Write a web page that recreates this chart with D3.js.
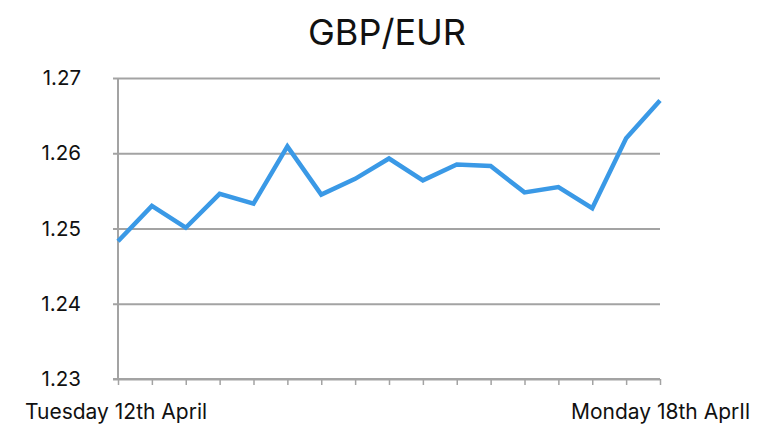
<!DOCTYPE html>
<html lang="en">
<head>
<meta charset="UTF-8">
<title>GBP/EUR</title>
<script src="https://d3js.org/d3.v7.min.js"></script>
<style>
  body { margin: 0; background: #fff; }
  text { font-family: Inter, Roboto, "Noto Sans", sans-serif; fill: #111; }
</style>
</head>
<body>
<svg width="770" height="446"></svg>
<script>
    const title = "GBP/EUR";
    const rates = [1.2483, 1.2530, 1.2501, 1.2546, 1.2533, 1.2609, 1.2545, 1.2566, 1.2593,
                   1.2564, 1.2585, 1.2583, 1.2548, 1.2555, 1.2527, 1.2620, 1.2670];
    const yTicks = [1.23, 1.24, 1.25, 1.26, 1.27];
    const startLabel = "Tuesday 12th April";
    const endLabel = "Monday 18th AprIl";

    const margin = {top: 78, right: 110, bottom: 67, left: 118},
        width = 770 - margin.left - margin.right,
        height = 446 - margin.top - margin.bottom;

    const svg = d3.select("svg")
        .append("g")
        .attr("transform", `translate(${margin.left},${margin.top})`);

    const x = d3.scaleLinear()
        .domain([0, rates.length - 1])
        .range([0, width]);

    const y = d3.scaleLinear()
        .domain([1.23, 1.27])
        .range([height, 0]);

    // grid + y labels
    const yAxis = svg.append("g")
        .call(d3.axisLeft(y).tickValues(yTicks).tickSize(-width - 5).tickFormat(d3.format(".2f")));
    yAxis.select(".domain").remove();
    yAxis.selectAll(".tick line")
        .attr("x1", -5)
        .attr("x2", width)
        .attr("stroke", "#a3a3a3")
        .attr("stroke-width", 2);
    yAxis.selectAll(".tick text")
        .attr("x", -37)
        .style("font-size", "20.5px");

    // left axis line
    svg.append("line")
        .attr("x1", 0).attr("x2", 0)
        .attr("y1", 0).attr("y2", height)
        .attr("stroke", "#a3a3a3")
        .attr("stroke-width", 2);

    // bottom axis with a tick per point
    const xAxis = svg.append("g")
        .attr("transform", `translate(0,${height})`)
        .call(d3.axisBottom(x).tickValues(d3.range(rates.length)).tickSize(6).tickSizeOuter(0).tickFormat(""));
    xAxis.select(".domain")
        .attr("d", `M-5,0H${width}`)
        .attr("stroke", "#a3a3a3")
        .attr("stroke-width", 2);
    xAxis.selectAll(".tick line")
        .attr("stroke", "#a3a3a3")
        .attr("stroke-width", 1.5);

    svg.append("text")
        .attr("x", x(0) - 93)
        .attr("y", height + 40)
        .style("font-size", "21px")
        .text(startLabel);

    svg.append("text")
        .attr("x", x(rates.length - 1) + 90)
        .attr("y", height + 40)
        .attr("text-anchor", "end")
        .style("font-size", "21px")
        .text(endLabel);

    const line = d3.line()
        .x((d, i) => x(i))
        .y(d => y(d));

    svg.append("path")
        .datum(rates)
        .attr("fill", "none")
        .attr("stroke", "#3a99e6")
        .attr("stroke-width", 4.5)
        .attr("stroke-linejoin", "miter")
        .attr("d", line);

    d3.select("svg").append("text")
        .attr("x", 387)
        .attr("y", 45)
        .attr("text-anchor", "middle")
        .style("font-size", "36px")
        .text(title);
</script>
</body>
</html>
